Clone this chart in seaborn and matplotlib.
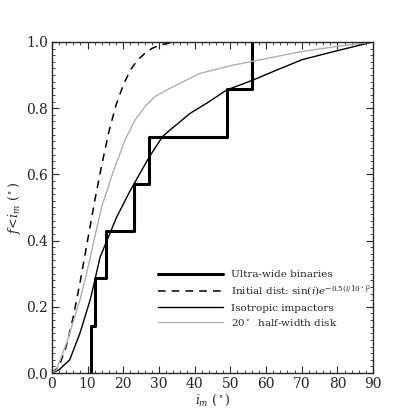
import numpy as np
import matplotlib
matplotlib.use('Agg')
import matplotlib.pyplot as plt
from matplotlib.ticker import MultipleLocator
import seaborn as sns

# --- data ---
# ultra-wide binaries: mutual inclinations where the empirical CDF steps up
ultra_i = [10.85, 10.85, 12.0, 15.3, 23.0, 27.3, 49.1, 56.1]
ultra_f = [0.0, 1/7, 2/7, 3/7, 4/7, 5/7, 6/7, 1.0]

# initial distribution sin(i) exp(-0.5 (i/10)^2), cumulative
init_i = [0, 2, 4, 6, 8, 10, 12, 14, 16, 18, 20, 22, 24, 26, 28, 30, 33, 36, 40, 90]
init_f = [0, 0.02, 0.08, 0.17, 0.28, 0.40, 0.52, 0.63, 0.73, 0.81, 0.87, 0.915,
          0.945, 0.965, 0.98, 0.99, 0.997, 1.0, 1.0, 1.0]

# isotropic impactors
iso_i = [0, 2, 5, 7.85, 10.7, 11.6, 13.5, 15.8, 18.1, 21.9, 23.0, 27.3, 31.0,
         33.1, 38.7, 43.4, 49.0, 56.4, 63.0, 70.0, 79.0, 90]
iso_f = [0, 0.01, 0.04, 0.12, 0.22, 0.26, 0.35, 0.41, 0.47, 0.55, 0.571, 0.653,
         0.714, 0.734, 0.784, 0.815, 0.855, 0.885, 0.915, 0.946, 0.971, 1.0]

# 20 deg half-width disk
disk_i = [0, 1.3, 4.1, 7.85, 9.7, 13.9, 16.7, 20.5, 23.3, 26.1, 28.9, 32.2,
          41.5, 50.8, 55.5, 69.5, 78.9, 90]
disk_f = [0, 0.01, 0.09, 0.22, 0.30, 0.50, 0.593, 0.704, 0.764, 0.805, 0.835,
          0.855, 0.905, 0.93, 0.94, 0.97, 0.985, 1.0]

sns.set_style('ticks')
plt.rcParams['font.family'] = ['DejaVu Serif']
plt.rcParams['mathtext.fontset'] = 'dejavuserif'
plt.rcParams['font.size'] = 8

fig = plt.figure(figsize=(4.15, 4.15), dpi=100)
ax = fig.add_axes([0.125, 0.101, 0.774, 0.798])

sns.lineplot(x=ultra_i, y=ultra_f, estimator=None, sort=False, drawstyle='steps-post',
             color='black', lw=2.2, ax=ax, label='Ultra-wide binaries')
sns.lineplot(x=init_i, y=init_f, estimator=None, sort=False, color='black', lw=1.1,
             linestyle=(0, (5, 4)), ax=ax,
             label=r'Initial dist: $\sin(i)e^{-0.5(i/10^\circ)^2}$')
sns.lineplot(x=iso_i, y=iso_f, estimator=None, sort=False, color='black', lw=1.0,
             ax=ax, label='Isotropic impactors')
sns.lineplot(x=disk_i, y=disk_f, estimator=None, sort=False, color='#b0b0b0', lw=1.0,
             ax=ax, label=r'$20^\circ$  half-width disk')

ax.set_xlim(0, 90)
ax.set_ylim(0, 1.0)
ax.xaxis.set_major_locator(MultipleLocator(10))
ax.xaxis.set_minor_locator(MultipleLocator(2))
ax.yaxis.set_major_locator(MultipleLocator(0.2))
ax.yaxis.set_minor_locator(MultipleLocator(0.02))
ax.tick_params(which='both', direction='in', top=True, right=True, labelsize=10)
ax.tick_params(which='major', length=5, width=0.8, pad=3)
ax.tick_params(which='minor', length=2.5, width=0.6)
for s in ax.spines.values():
    s.set_linewidth(1.0)

ax.set_xlabel(r'$i_m$ ($^\circ$)', fontsize=9, labelpad=1)
ax.set_ylabel(r'$f\!<\!i_m$ ($^\circ$)', fontsize=9, labelpad=2)

ax.legend(loc='upper left', bbox_to_anchor=(0.30, 0.34), frameon=False,
          handlelength=6.3, fontsize=7.5, labelspacing=0.42, handletextpad=0.75)

fig.savefig('out.png', dpi=100)
